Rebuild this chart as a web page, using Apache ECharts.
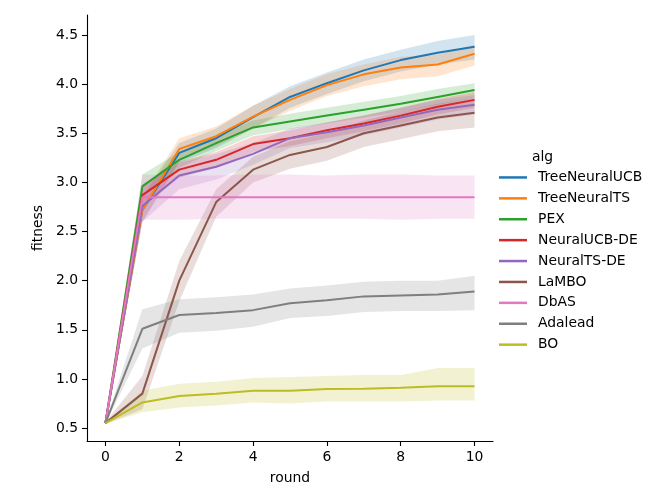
<!DOCTYPE html>
<html>
<head>
<meta charset="utf-8">
<script src="https://cdn.jsdelivr.net/npm/echarts@6/dist/echarts.min.js"></script>
<style>html,body{margin:0;padding:0;background:#fff}#c{width:654px;height:500px}</style>
</head>
<body>
<div id="c"></div>
<script>
const rounds = [0,1,2,3,4,5,6,7,8,9,10];
const algs = ['TreeNeuralUCB','TreeNeuralTS','PEX','NeuralUCB-DE','NeuralTS-DE','LaMBO','DbAS','Adalead','BO'];
const colors = ['#1f77b4','#ff7f0e','#2ca02c','#d62728','#9467bd','#8c564b','#e377c2','#7f7f7f','#bcbd22'];
const yTicks = [0.5,1.0,1.5,2.0,2.5,3.0,3.5,4.0,4.5];
const xTicks = [0,2,4,6,8,10];

const treeNeuralUCB    = [0.55,2.72,3.30,3.45,3.665,3.87,4.01,4.14,4.245,4.32,4.38];
const treeNeuralUCBLo  = [0.54,2.60,3.20,3.35,3.55,3.76,3.90,4.03,4.13,4.20,4.25];
const treeNeuralUCBHi  = [0.56,2.85,3.40,3.55,3.78,3.98,4.12,4.25,4.35,4.44,4.50];

const treeNeuralTS     = [0.55,2.72,3.34,3.47,3.67,3.84,3.99,4.10,4.17,4.20,4.31];
const treeNeuralTSLo   = [0.54,2.60,3.22,3.37,3.55,3.73,3.88,3.98,4.05,4.08,4.19];
const treeNeuralTSHi   = [0.56,2.86,3.45,3.57,3.78,3.95,4.10,4.20,4.28,4.30,4.40];

const pex              = [0.55,2.96,3.23,3.40,3.56,3.62,3.68,3.74,3.80,3.87,3.94];
const pexLo            = [0.54,2.85,3.15,3.32,3.48,3.54,3.60,3.66,3.72,3.79,3.86];
const pexHi            = [0.56,3.08,3.31,3.48,3.63,3.70,3.76,3.82,3.88,3.95,4.01];

const neuralUCBDE      = [0.55,2.87,3.13,3.23,3.39,3.45,3.53,3.60,3.68,3.77,3.84];
const neuralUCBDELo    = [0.54,2.75,3.05,3.15,3.31,3.37,3.45,3.52,3.60,3.69,3.76];
const neuralUCBDEHi    = [0.56,2.98,3.21,3.31,3.47,3.53,3.61,3.68,3.76,3.85,3.92];

const neuralTSDE       = [0.55,2.76,3.07,3.16,3.29,3.45,3.51,3.58,3.66,3.74,3.79];
const neuralTSDELo     = [0.54,2.60,2.93,3.03,3.18,3.35,3.41,3.48,3.56,3.64,3.69];
const neuralTSDEHi     = [0.56,2.95,3.20,3.29,3.40,3.55,3.61,3.68,3.76,3.84,3.89];

const lambo            = [0.55,0.85,2.00,2.80,3.13,3.28,3.36,3.50,3.58,3.66,3.71];
const lamboLo          = [0.54,0.69,1.79,2.65,3.00,3.14,3.22,3.36,3.44,3.52,3.56];
const lamboHi          = [0.56,1.03,2.20,2.93,3.26,3.42,3.50,3.63,3.72,3.80,3.86];

const dbas             = [0.55,2.85,2.85,2.85,2.85,2.85,2.85,2.85,2.85,2.85,2.85];
const dbasLo           = [0.54,2.62,2.62,2.63,2.63,2.63,2.63,2.63,2.62,2.63,2.63];
const dbasHi           = [0.56,3.08,3.07,3.07,3.08,3.08,3.07,3.08,3.08,3.07,3.07];

const adalead          = [0.55,1.51,1.65,1.67,1.70,1.77,1.80,1.84,1.85,1.86,1.89];
const adaleadLo        = [0.54,1.31,1.47,1.49,1.53,1.62,1.64,1.68,1.69,1.69,1.70];
const adaleadHi        = [0.56,1.71,1.81,1.83,1.86,1.92,1.95,1.99,2.00,2.00,2.05];

const bo               = [0.55,0.76,0.825,0.85,0.88,0.88,0.897,0.90,0.91,0.925,0.925];
const boLo             = [0.54,0.66,0.71,0.73,0.76,0.75,0.77,0.77,0.77,0.78,0.78];
const boHi             = [0.56,0.88,0.95,0.97,1.01,1.02,1.03,1.04,1.04,1.11,1.11];

const means = [treeNeuralUCB,treeNeuralTS,pex,neuralUCBDE,neuralTSDE,lambo,dbas,adalead,bo];
const lows  = [treeNeuralUCBLo,treeNeuralTSLo,pexLo,neuralUCBDELo,neuralTSDELo,lamboLo,dbasLo,adaleadLo,boLo];
const highs = [treeNeuralUCBHi,treeNeuralTSHi,pexHi,neuralUCBDEHi,neuralTSDEHi,lamboHi,dbasHi,adaleadHi,boHi];

const FONT = 'DejaVu Sans';
const FS = 13.9;

function hexA(hex, a) {
  const r = parseInt(hex.slice(1,3),16), g = parseInt(hex.slice(3,5),16), b = parseInt(hex.slice(5,7),16);
  return 'rgba(' + r + ',' + g + ',' + b + ',' + a + ')';
}

const series = [];
algs.forEach((name, i) => {
  const c = colors[i];
  const bandData = rounds.map((x, k) => [x, lows[i][k], highs[i][k]]);
  series.push({
    name: name + ' band', type: 'custom', silent: true,
    data: bandData,
    encode: { x: 0, y: [1, 2] },
    clip: true,
    renderItem: function (params, api) {
      if (params.dataIndex !== 0) return null;
      const top = bandData.map(d => api.coord([d[0], d[2]]));
      const bot = bandData.map(d => api.coord([d[0], d[1]])).reverse();
      return {
        type: 'polygon',
        shape: { points: top.concat(bot) },
        style: { fill: hexA(c, 0.2), stroke: 'none' }
      };
    },
    animation: false
  });
  series.push({
    name: name, type: 'line',
    data: rounds.map((x, k) => [x, means[i][k]]),
    symbol: 'none', lineStyle: { color: c, width: 2 }, itemStyle: { color: c },
    animation: false
  });
});

const chart = echarts.init(document.getElementById('c'), null, { renderer: 'canvas' });
chart.setOption({
  backgroundColor: '#ffffff',
  animation: false,
  textStyle: { fontFamily: FONT },
  grid: { left: 87, top: 15, width: 406, height: 426, containLabel: false },
  xAxis: {
    type: 'value', min: -0.5, max: 10.5,
    name: 'round', nameLocation: 'middle', nameGap: 30,
    nameTextStyle: { color: '#000', fontSize: FS, fontFamily: FONT },
    axisLine: { show: true, onZero: false, lineStyle: { color: '#000', width: 1.1 } },
    axisTick: { show: true, length: 5, lineStyle: { color: '#000', width: 1.1 }, customValues: xTicks },
    axisLabel: { color: '#000', fontSize: FS, fontFamily: FONT, margin: 9, customValues: xTicks, formatter: v => String(v) },
    splitLine: { show: false }
  },
  yAxis: {
    type: 'value', min: 0.368, max: 4.704,
    name: 'fitness', nameLocation: 'middle', nameGap: 34,
    nameTextStyle: { color: '#000', fontSize: FS, fontFamily: FONT },
    axisLine: { show: true, onZero: false, lineStyle: { color: '#000', width: 1.1 } },
    axisTick: { show: true, length: 5, lineStyle: { color: '#000', width: 1.1 }, customValues: yTicks },
    axisLabel: { color: '#000', fontSize: FS, fontFamily: FONT, margin: 9, customValues: yTicks, formatter: v => v.toFixed(1) },
    splitLine: { show: false }
  },
  legend: {
    data: algs.map((n, i) => ({ name: n, icon: 'rect', itemStyle: { color: colors[i] } })),
    orient: 'vertical', left: 499, top: 167, padding: 0,
    itemWidth: 28, itemHeight: 2.5, itemGap: 0,
    selectedMode: false,
    textStyle: { color: '#000', fontSize: FS, fontFamily: FONT, lineHeight: 20.9, padding: [0, 0, 0, 6] }
  },
  graphic: [{
    type: 'text', left: 532, top: 150,
    style: { text: 'alg', fill: '#000', fontSize: FS, fontFamily: FONT }
  }],
  series: series
});
</script>
</body>
</html>
